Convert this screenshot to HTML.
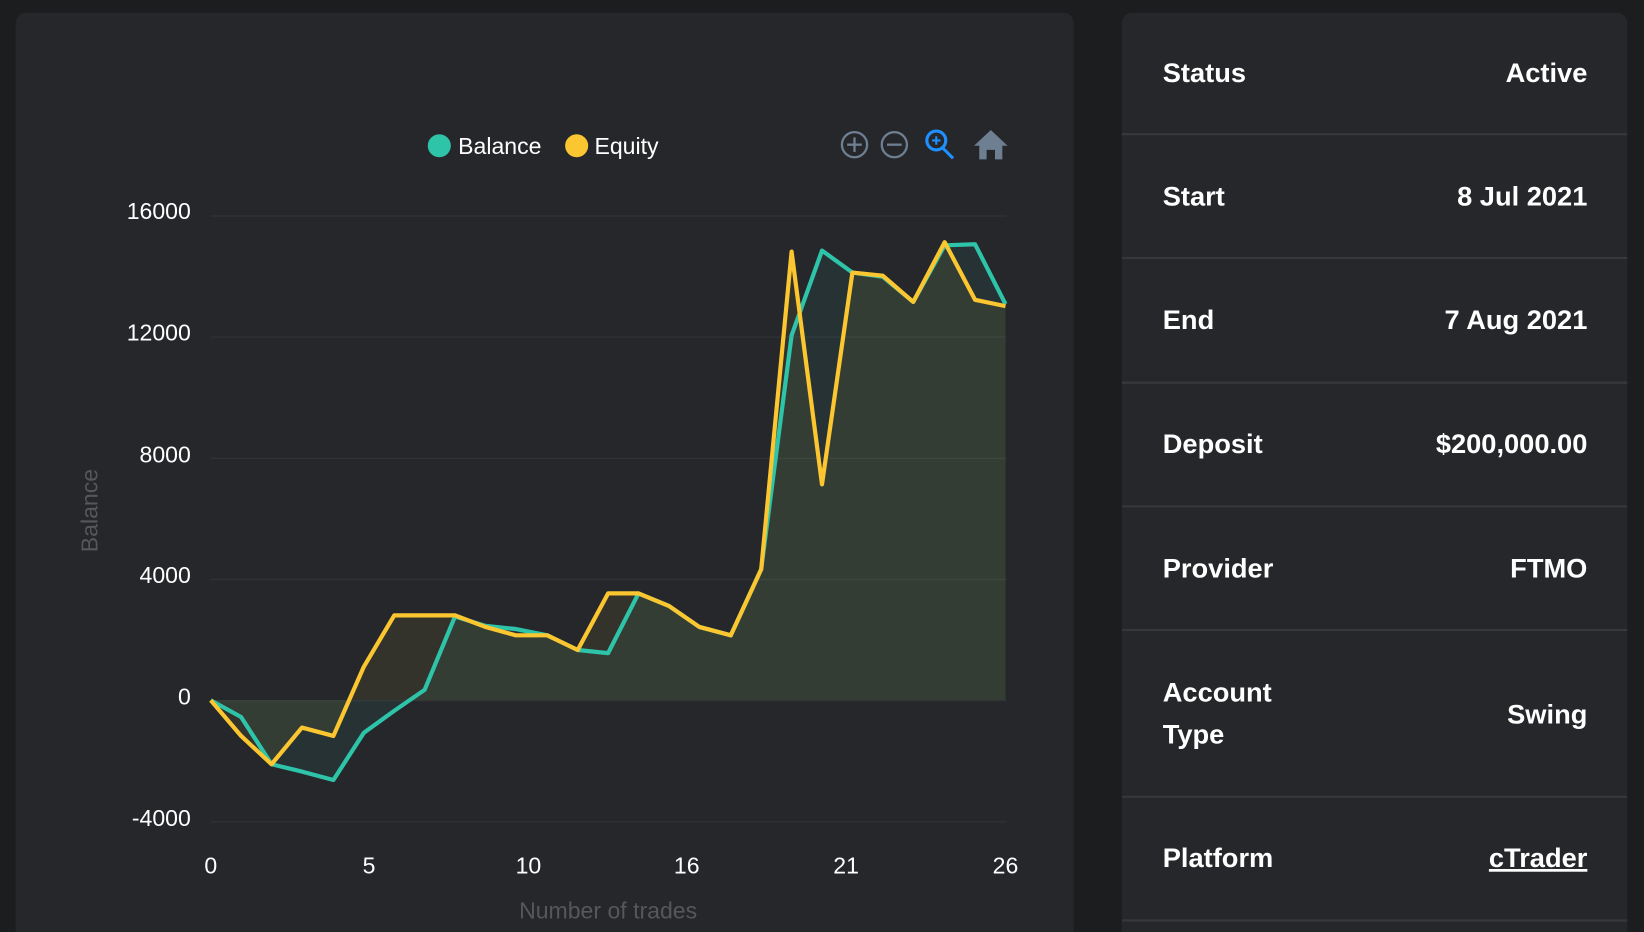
<!DOCTYPE html>
<html><head><meta charset="utf-8"><style>
html,body{margin:0;padding:0;background:#1c1d1f;width:1644px;height:932px;overflow:hidden}
svg{display:block}
text{font-family:"Liberation Sans",sans-serif}
</style></head><body>
<svg width="1644" height="932" viewBox="0 0 1568 889" preserveAspectRatio="none">
<rect x="0" y="0" width="1568" height="889" fill="#1c1d1f"/>
<rect x="15" y="12" width="1009" height="900" rx="10" fill="#25272a"/>
<rect x="1070" y="12" width="482" height="900" rx="10" fill="#25272a"/>
<g stroke="#303236" stroke-width="1.2">
<line x1="201" y1="206" x2="960" y2="206"/>
<line x1="201" y1="321.6" x2="960" y2="321.6"/>
<line x1="201" y1="437.2" x2="960" y2="437.2"/>
<line x1="201" y1="552.8" x2="960" y2="552.8"/>
<line x1="201" y1="668.4" x2="960" y2="668.4"/>
<line x1="201" y1="784" x2="960" y2="784"/>
</g>
<g fill="#ffffff" font-size="22" text-anchor="end">
<text x="182" y="209">16000</text>
<text x="182" y="325">12000</text>
<text x="182" y="441">8000</text>
<text x="182" y="556">4000</text>
<text x="182" y="672">0</text>
<text x="182" y="788">-4000</text>
</g>
<g fill="#ffffff" font-size="22" text-anchor="middle">
<text x="201" y="833">0</text>
<text x="352" y="833">5</text>
<text x="504" y="833">10</text>
<text x="655" y="833">16</text>
<text x="807" y="833">21</text>
<text x="959" y="833">26</text>
</g>
<text x="580" y="876" fill="#55575a" font-size="22" text-anchor="middle">Number of trades</text>
<text transform="translate(93,487) rotate(-90)" fill="#55575a" font-size="22" text-anchor="middle">Balance</text>
<polygon fill="rgba(46,196,169,0.08)" points="201,668 230,684 259,729 288,736 318,744 347,699 376,678 405,658 434,588 463,597 492,600 522,606 551,620 580,623 609,566 638,578 667,598 697,606 726,543 755,320 784,239 813,260 842,264 871,288 901,234 930,233 959,290 959,668"/>
<polygon fill="rgba(150,140,60,0.13)" points="201,668 230,702 259,729 288,694 318,702 347,636 376,587 405,587 434,587 463,598 492,606 522,606 551,620 580,566 609,566 638,578 667,598 697,606 726,543 755,240 784,462 813,260 842,263 871,288 901,231 930,286 959,292 959,668"/>
<polyline fill="none" stroke="#2ec4a9" stroke-width="4" stroke-linejoin="round" points="201,668 230,684 259,729 288,736 318,744 347,699 376,678 405,658 434,588 463,597 492,600 522,606 551,620 580,623 609,566 638,578 667,598 697,606 726,543 755,320 784,239 813,260 842,264 871,288 901,234 930,233 959,290"/>
<polyline fill="none" stroke="#fcc631" stroke-width="4" stroke-linejoin="round" points="201,668 230,702 259,729 288,694 318,702 347,636 376,587 405,587 434,587 463,598 492,606 522,606 551,620 580,566 609,566 638,578 667,598 697,606 726,543 755,240 784,462 813,260 842,263 871,288 901,231 930,286 959,292"/>
<circle cx="419" cy="139" r="11" fill="#2ec4a9"/>
<text x="437" y="147" fill="#fff" font-size="22">Balance</text>
<circle cx="550" cy="139" r="11" fill="#fcc631"/>
<text x="567" y="147" fill="#fff" font-size="22">Equity</text>
<g fill="none" stroke="#6e7f92" stroke-width="2.2">
<circle cx="815" cy="138" r="12"/><line x1="808" y1="138" x2="822" y2="138"/><line x1="815" y1="131" x2="815" y2="145"/>
<circle cx="853" cy="138" r="12"/><line x1="846" y1="138" x2="860" y2="138"/>
</g>
<g fill="none" stroke="#1e90ff" stroke-width="3">
<circle cx="893" cy="134" r="9"/><line x1="899" y1="141" x2="909" y2="151"/>
<line x1="889" y1="134" x2="897" y2="134" stroke-width="2"/><line x1="893" y1="130" x2="893" y2="138" stroke-width="2"/>
</g>
<polygon fill="#6e7f92" points="945,124 961,139 956,139 956,152 949,152 949,143 941,143 941,152 934,152 934,139 929,139"/>
<g stroke="#36383b" stroke-width="2">
<line x1="1070" y1="128" x2="1552" y2="128"/>
<line x1="1070" y1="246" x2="1552" y2="246"/>
<line x1="1070" y1="365" x2="1552" y2="365"/>
<line x1="1070" y1="483" x2="1552" y2="483"/>
<line x1="1070" y1="601" x2="1552" y2="601"/>
<line x1="1070" y1="760" x2="1552" y2="760"/>
<line x1="1070" y1="878" x2="1552" y2="878"/>
</g>
<g fill="#fff" font-size="26" font-weight="bold">
<text x="1109" y="78">Status</text>
<text x="1109" y="196">Start</text>
<text x="1109" y="314">End</text>
<text x="1109" y="432">Deposit</text>
<text x="1109" y="551">Provider</text>
<text x="1109" y="669">Account</text>
<text x="1109" y="709">Type</text>
<text x="1109" y="827">Platform</text>
</g>
<g fill="#fff" font-size="26" font-weight="bold" text-anchor="end">
<text x="1514" y="78">Active</text>
<text x="1514" y="196">8 Jul 2021</text>
<text x="1514" y="314">7 Aug 2021</text>
<text x="1514" y="432">$200,000.00</text>
<text x="1514" y="551">FTMO</text>
<text x="1514" y="690">Swing</text>
<text x="1514" y="827" text-decoration="underline">cTrader</text>
</g>
</svg>
</body></html>
